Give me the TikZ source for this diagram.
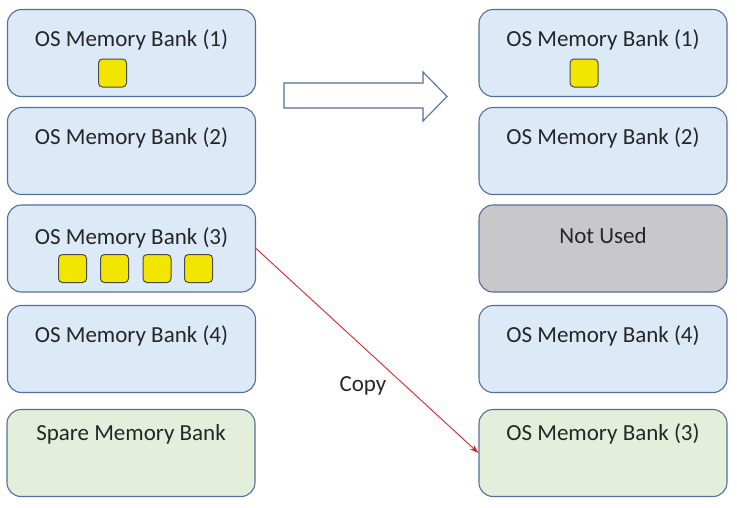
\documentclass[tikz,border=0pt]{standalone}
\usepackage{fontspec}
\setmainfont{Carlito}
\usetikzlibrary{arrows.meta}

\definecolor{bankblue}{RGB}{220,233,247}
\definecolor{bankgreen}{RGB}{227,239,218}
\definecolor{bankgray}{RGB}{200,200,202}
\definecolor{bankline}{RGB}{84,110,158}
\definecolor{pageyellow}{RGB}{242,230,0}
\definecolor{txtgray}{RGB}{38,38,38}
\definecolor{copyred}{RGB}{225,35,40}

\tikzset{
    bank/.style={draw=bankline, line width=1.1pt, rounded corners=14pt,
        minimum width=248pt, minimum height=87pt, inner sep=0pt},
    title/.style={text=txtgray, font=\fontsize{23}{27}\selectfont, inner sep=0pt},
    page/.style={draw=black!70, fill=pageyellow, line width=1pt, rounded corners=4pt,
        minimum size=28pt, inner sep=0pt},
}

\begin{document}
\begin{tikzpicture}[x=1pt,y=-1pt]
        \useasboundingbox (0,0) rectangle (737,507);

        % left column
        \foreach \i/\y in {1/53,2/151,3/248.5,4/349}
            \node[bank, fill=bankblue] (left\i) at (131.5,\y) {};
        \node[bank, fill=bankgreen] (left5) at (131,453) {};

        \node[title] (lt1) at ([yshift=-31pt]left1.north) {OS Memory Bank (1)};
        \node[title] (lt2) at ([yshift=-31pt]left2.north) {OS Memory Bank (2)};
        \node[title] (lt3) at ([yshift=-33pt]left3.north) {OS Memory Bank (3)};
        \node[title] (lt4) at ([yshift=-31pt]left4.north) {OS Memory Bank (4)};
        \node[title] (lt5) at ([yshift=-25pt]left5.north) {Spare Memory Bank};

        \node[page] (lp1) at (112.5,73) {};
        \foreach \x [count=\k] in {72.5,114.5,157,198.5}
            \node[page] (lp3\k) at (\x,268.5) {};

        % right column
        \foreach \i/\y in {1/53,2/151,4/349}
            \node[bank, fill=bankblue] (right\i) at (603,\y) {};
        \node[bank, fill=bankgray] (right3) at (603,248.5) {};
        \node[bank, fill=bankgreen] (right5) at (603,453) {};

        \node[title] (rt1) at ([yshift=-31pt]right1.north) {OS Memory Bank (1)};
        \node[title] (rt2) at ([yshift=-31pt]right2.north) {OS Memory Bank (2)};
        \node[title] (rt3) at ([yshift=-31pt]right3.north) {Not Used};
        \node[title] (rt4) at ([yshift=-31pt]right4.north) {OS Memory Bank (4)};
        \node[title] (rt5) at ([yshift=-25pt]right5.north) {OS Memory Bank (3)};

        \node[page] (rp1) at (584,73) {};

        % block arrow
        \draw[draw=bankline, line width=1.1pt, fill=white]
            (284,83) -- (423,83) -- (423,72) -- (447,96.5) -- (423,121) -- (423,108) -- (284,108) -- cycle;

        % copy
        \draw[-{Stealth[length=9pt,width=6pt]}, copyred, line width=0.9pt] (left3.east) -- (right5.west);
        \node[title] (copy) at (363,386) {Copy};
\end{tikzpicture}
\end{document}
